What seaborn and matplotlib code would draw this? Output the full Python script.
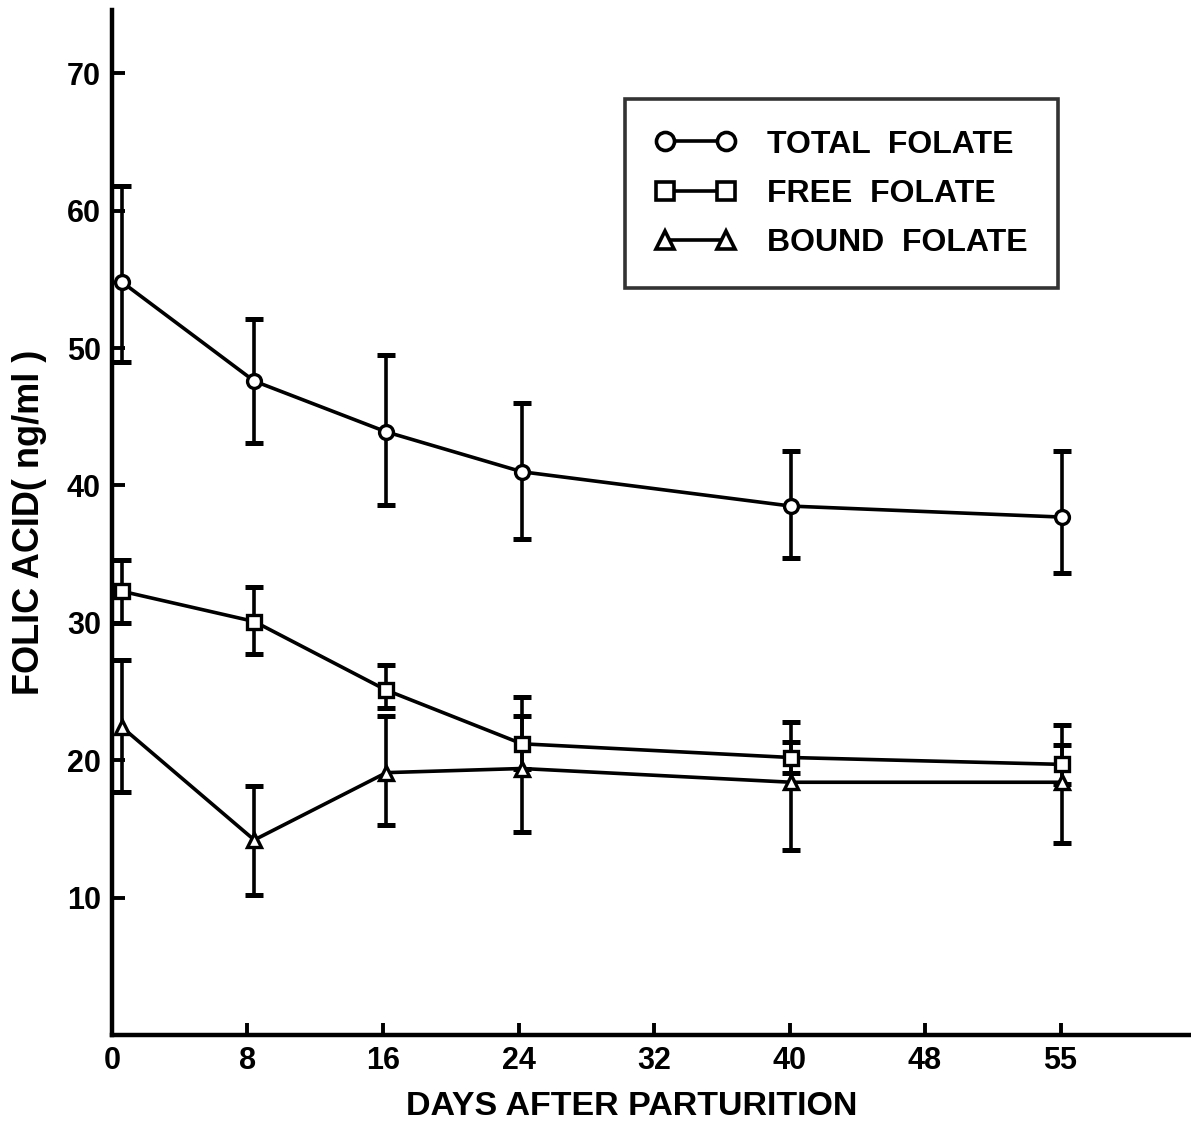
import matplotlib
matplotlib.use("Agg")
import matplotlib.pyplot as plt
from matplotlib.lines import Line2D
import seaborn as sns
import pandas as pd
import numpy as np

# values (ng/ml); x = position on the day axis
days = [0, 8, 16, 24, 40, 55]
day_pos = [0.6, 8.4, 16.2, 24.2, 40.1, 56.1]

total_mean = [54.8, 47.6, 43.9, 41.0, 38.5, 37.7]
total_hi = [61.8, 52.1, 49.5, 46.0, 42.5, 42.5]
total_lo = [49.0, 43.1, 38.6, 36.1, 34.7, 33.6]

free_mean = [32.3, 30.1, 25.1, 21.2, 20.2, 19.7]
free_hi = [34.6, 32.6, 26.9, 23.2, 21.3, 21.1]
free_lo = [30.0, 27.7, 23.8, 19.4, 19.1, 18.3]

bound_mean = [22.4, 14.2, 19.1, 19.4, 18.4, 18.4]
bound_hi = [27.3, 18.1, 23.2, 24.6, 22.8, 22.6]
bound_lo = [17.7, 10.2, 15.3, 14.8, 13.5, 14.0]

series_names = ["TOTAL FOLATE", "FREE FOLATE", "BOUND FOLATE"]
legend_labels = ["TOTAL  FOLATE", "FREE  FOLATE", "BOUND  FOLATE"]
series_markers = ["o", "s", "^"]

xtick_pos = [0, 8, 16, 24, 32, 40, 48, 56]
xtick_labels = ["0", "8", "16", "24", "32", "40", "48", "55"]
ytick_vals = [10, 20, 30, 40, 50, 60, 70]

sns.set_style("ticks", {"axes.edgecolor": "black", "text.color": "black",
                        "xtick.color": "black", "ytick.color": "black",
                        "axes.labelcolor": "black"})
plt.rcParams["font.family"] = ["Liberation Sans", "DejaVu Sans"]
plt.rcParams["font.weight"] = "bold"

rows = []
for name, mean in zip(series_names, [total_mean, free_mean, bound_mean]):
    for p, m in zip(day_pos, mean):
        rows.append({"day": p, "folate": m, "series": name})
df = pd.DataFrame(rows)

fig = plt.figure(figsize=(11.91, 11.27), dpi=100)
ax = fig.add_axes([0.094, 0.0816, 0.906, 0.9094])

# error bars first so markers sit on top
for mean, hi, lo in [(total_mean, total_hi, total_lo),
                     (free_mean, free_hi, free_lo),
                     (bound_mean, bound_hi, bound_lo)]:
    mean = np.array(mean)
    yerr = [mean - np.array(lo), np.array(hi) - mean]
    ax.errorbar(day_pos, mean, yerr=yerr, fmt="none", ecolor="black",
                elinewidth=2.6, capsize=6.5, capthick=3.6, zorder=2)

sns.lineplot(data=df, x="day", y="folate", style="series",
             markers=dict(zip(series_names, series_markers)), dashes=False,
             color="black", linewidth=2.6, markersize=10,
             markerfacecolor="white", markeredgecolor="black",
             markeredgewidth=2.4, legend=False, ax=ax, zorder=3)

ax.set_xlim(0, 63.7)
ax.set_ylim(0, 74.6)
ax.set_xticks(xtick_pos)
ax.set_xticklabels(xtick_labels)
ax.set_yticks(ytick_vals)
ax.tick_params(direction="in", length=9, width=2.8, labelsize=22, pad=8,
               colors="black")

for side in ["top", "right"]:
    ax.spines[side].set_visible(False)
for side in ["left", "bottom"]:
    ax.spines[side].set_linewidth(3.2)

ax.set_xlabel("DAYS AFTER PARTURITION", fontsize=24.5, fontweight="bold", labelpad=14)
ax.xaxis.set_label_coords(0.482, -0.055)
ax.set_ylabel("FOLIC ACID( ng/ml )", fontsize=26, fontweight="bold", labelpad=14)

handles = [Line2D([0], [0], color="black", linewidth=2.6, marker=m,
                  markersize=13, markerfacecolor="white",
                  markeredgecolor="black", markeredgewidth=2.6)
           for m in series_markers]
leg = ax.legend(handles, legend_labels, loc="upper right",
                bbox_to_anchor=(0.877, 0.913), numpoints=2, handlelength=2.5,
                fontsize=23, frameon=True, fancybox=False, edgecolor="black",
                borderpad=0.95, labelspacing=0.6, handletextpad=1.0,
                borderaxespad=0)
leg.get_frame().set_linewidth(2.6)
for t in leg.get_texts():
    t.set_color("black")

fig.savefig("out.png", dpi=100, facecolor="white")
